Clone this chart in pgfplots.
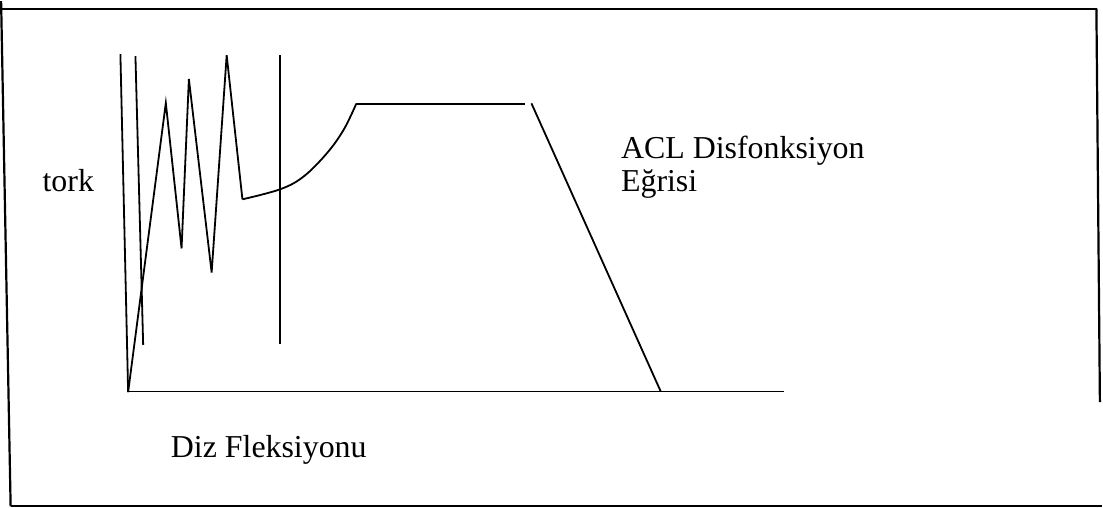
\documentclass[border=0pt]{standalone}
\usepackage{fontspec}
\setmainfont{Liberation Serif}
\usepackage{pgfplots}
\pgfplotsset{compat=1.18}
\begin{document}
\begin{tikzpicture}
\begin{axis}[
  width=551.5pt, height=256pt, scale only axis,
  xmin=0, xmax=1103, ymin=0, ymax=512, y dir=reverse,
  hide axis, clip=false,
  cycle list={{black,solid,mark=none,line width=0.9pt}},
]
% frame
\addplot[black, line width=1.1pt] coordinates {(5,5) (14.5,509)};
\addplot[black, line width=1.1pt] coordinates {(5,12.5) (1098,12.5)};
\addplot[black, line width=1.1pt] coordinates {(1097.5,12.5) (1101,405)};
\addplot[black, line width=1.1pt] coordinates {(14.5,508.5) (1103,508.5)};
% vertical strokes
\addplot[black, line width=0.9pt] coordinates {(124,58) (131.7,395)};
\addplot[black, line width=0.9pt] coordinates {(139,60) (146.7,348)};
\addplot[black, line width=0.9pt] coordinates {(283.3,59) (283.3,347)};
% zigzag
\addplot[black, line width=0.9pt, line join=miter] coordinates {(131.7,395) (169.3,106.7) (185,251.7) (192.3,82.7) (215,275.7) (230,59) (245.7,202.7)};
% curve
\addplot[black, line width=0.9pt, smooth, tension=0.6] coordinates {(245.7,202.7) (283.3,192.7) (306.7,180) (330,156.7) (346.7,133.3) (359.3,107.3)};
% plateau
\addplot[black, line width=0.9pt] coordinates {(359.3,107.3) (527.3,107.3)};
% descent
\addplot[black, line width=0.9pt] coordinates {(534,107) (663,394.5)};
% x axis
\addplot[black, line width=0.9pt] coordinates {(131.7,394.5) (786,394.5)};
% texts
\node[anchor=base west, inner sep=0pt, font=\fontsize{15.9}{18}\selectfont] at (axis cs:46,195) {tork};
\node[anchor=base west, inner sep=0pt, font=\fontsize{15.9}{18}\selectfont] at (axis cs:623,161.7) {ACL Disfonksiyon};
\node[anchor=base west, inner sep=0pt, font=\fontsize{15.9}{18}\selectfont] at (axis cs:623,195) {Eğrisi};
\node[anchor=base west, inner sep=0pt, font=\fontsize{15.9}{18}\selectfont] at (axis cs:174,460) {Diz Fleksiyonu};
\end{axis}
\end{tikzpicture}
\end{document}
